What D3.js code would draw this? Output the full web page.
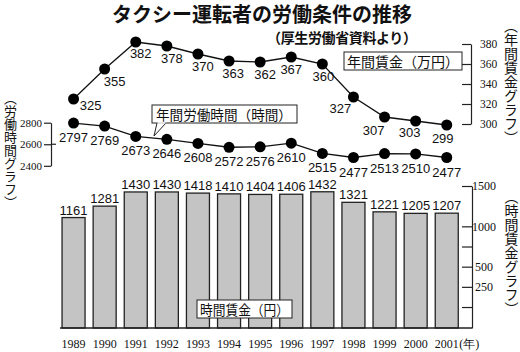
<!DOCTYPE html>
<html>
<head>
<meta charset="utf-8">
<script src="https://cdn.jsdelivr.net/npm/d3@7"></script>
<style>
  html, body { margin: 0; padding: 0; background: #fff; }
  svg { display: block; }
  .num { font-family: "Liberation Sans", Arial, sans-serif; font-size: 13px; fill: #111; }
  .serif { font-family: "Liberation Serif", "Times New Roman", serif; fill: #111; }
  .jp { font-family: "Noto Sans CJK JP", sans-serif; fill: #111; }
  .vert { writing-mode: vertical-rl; }
</style>
</head>
<body>
<div id="chart"></div>
<script>
// タクシー運転者の労働条件の推移
const years = ["1989","1990","1991","1992","1993","1994","1995","1996","1997","1998","1999","2000","2001"];
const annualWage = [325, 355, 382, 378, 370, 363, 362, 367, 360, 327, 307, 303, 299];     // 万円
const annualHours = [2797, 2769, 2673, 2646, 2608, 2572, 2576, 2610, 2515, 2477, 2513, 2510, 2477]; // 時間
const hourlyWage = [1161, 1281, 1430, 1430, 1418, 1410, 1404, 1406, 1432, 1321, 1221, 1205, 1207]; // 円

const wageTicks = [300, 320, 340, 360, 380];
const hoursTicks = [2400, 2600, 2800];
const hourlyTicks = [0, 250, 500, 750, 1000, 1500];
const hourlyTickLabels = [250, 500, 1000, 1500];

// label nudges for the wage line (layout only)
const wageLabelDx = [17, 10, 5, 5, 5, 4, 5, 0, 1, -13, -11, -6, -4];
const wageLabelDy = [11, 17, 16, 17, 17, 17, 17, 17, 17, 16, 18, 16, 18];

const W = 520, H = 352;
const svg = d3.select("#chart").append("svg")
  .attr("width", W).attr("height", H);

// scales
const x = d3.scaleBand().domain(years)
  .range([58, 462.3]).paddingInner(0.26).paddingOuter(0.13);
const cx = d => x(d) + x.bandwidth() / 2;

const yBar = d3.scaleLinear().domain([0, 1500]).range([328, 185.3]);
const yBarAxis = d3.scaleLinear().domain([-260, 1500]).range([328, 186]);
const yWage = d3.scaleLinear().domain([300, 380]).range([124, 44]);
const yHours = d3.scaleLinear().domain([2400, 2800]).range([165.8, 122.7]);

// ===== title =====
svg.append("text").attr("class", "jp")
  .attr("x", 262).attr("y", 21.5).attr("text-anchor", "middle")
  .style("font-size", "20px").style("font-weight", "700")
  .text("タクシー運転者の労働条件の推移");
svg.append("text").attr("class", "jp")
  .attr("x", 267).attr("y", 43)
  .style("font-size", "14px").style("font-weight", "700")
  .attr("textLength", 150).attr("lengthAdjust", "spacing")
  .text("（厚生労働省資料より）");

// ===== bars =====
const barData = years.map((y, i) => ({ year: y, v: hourlyWage[i] }));
svg.selectAll(".bar").data(barData).enter().append("rect")
  .attr("class", "bar")
  .attr("x", d => x(d.year))
  .attr("y", d => yBar(d.v))
  .attr("width", x.bandwidth())
  .attr("height", d => yBar(0) - yBar(d.v))
  .attr("fill", "#c4c4c4")
  .attr("stroke", "#222")
  .attr("stroke-width", 1.3);

svg.selectAll(".bar-label").data(barData).enter().append("text")
  .attr("class", "num")
  .attr("x", d => cx(d.year))
  .attr("y", d => yBar(d.v) - 3)
  .attr("text-anchor", "middle")
  .text(d => d.v);

// baseline
svg.append("line")
  .attr("x1", 60).attr("x2", 472)
  .attr("y1", yBar(0)).attr("y2", yBar(0))
  .attr("stroke", "#222").attr("stroke-width", 1.3);

// year axis
const xAxis = svg.append("g")
  .attr("transform", `translate(0,${yBar(0)})`)
  .call(d3.axisBottom(x).tickSize(0).tickPadding(0));
xAxis.select(".domain").remove();
xAxis.selectAll("text")
  .attr("class", "serif")
  .attr("y", 20).attr("dy", 0)
  .style("font-size", "12px");
svg.append("text").attr("class", "serif")
  .attr("x", cx("2001") + 12.5).attr("y", yBar(0) + 20)
  .style("font-size", "12px")
  .text("(年)");

// hourly wage axis (right, bottom)
const barAxis = svg.append("g")
  .attr("transform", "translate(472,0)")
  .call(d3.axisRight(yBarAxis).tickValues(hourlyTicks)
    .tickSizeInner(-10).tickSizeOuter(0).tickPadding(12)
    .tickFormat(d => hourlyTickLabels.includes(d) ? d : ""));
barAxis.select(".domain").attr("stroke", "#222").attr("stroke-width", 1.2);
barAxis.selectAll(".tick line").attr("stroke", "#222").attr("stroke-width", 1.2);
barAxis.selectAll("text").attr("class", "serif")
  .attr("text-anchor", "middle")
  .style("font-size", "12px");

// legend: 時間賃金（円）
svg.append("rect")
  .attr("x", 197).attr("y", 300).attr("width", 95).attr("height", 18)
  .attr("fill", "#fff").attr("stroke", "#222").attr("stroke-width", 1);
svg.append("text").attr("class", "jp")
  .attr("x", 200).attr("y", 314.5)
  .style("font-size", "14px")
  .attr("textLength", 89).attr("lengthAdjust", "spacingAndGlyphs")
  .text("時間賃金（円）");

// ===== annual hours line =====
const hoursData = years.map((y, i) => ({ year: y, v: annualHours[i] }));
svg.append("path").datum(hoursData)
  .attr("fill", "none").attr("stroke", "#111").attr("stroke-width", 1.3)
  .attr("d", d3.line().x(d => cx(d.year)).y(d => yHours(d.v)));
svg.selectAll(".hours-dot").data(hoursData).enter().append("circle")
  .attr("cx", d => cx(d.year)).attr("cy", d => yHours(d.v))
  .attr("r", 5.5).attr("fill", "#000");
svg.selectAll(".hours-label").data(hoursData).enter().append("text")
  .attr("class", "num")
  .attr("x", d => cx(d.year))
  .attr("y", d => yHours(d.v) + 19)
  .attr("text-anchor", "middle")
  .text(d => d.v);

// hours axis (left bracket)
const hAxis = svg.append("g")
  .attr("transform", "translate(51,0)")
  .call(d3.axisLeft(yHours).tickValues(hoursTicks)
    .tickSizeInner(7).tickSizeOuter(0).tickPadding(2)
    .tickFormat(d3.format("d")));
hAxis.select(".domain").attr("stroke", "#222").attr("stroke-width", 1.2);
hAxis.selectAll(".tick line").attr("stroke", "#222").attr("stroke-width", 1.2);
hAxis.selectAll("text").attr("class", "serif").style("font-size", "11px");
svg.append("line")
  .attr("x1", 51).attr("x2", 56)
  .attr("y1", yHours(2600)).attr("y2", yHours(2600))
  .attr("stroke", "#222").attr("stroke-width", 1.2);

// legend: 年間労働時間（時間） with tail
svg.append("path")
  .attr("d", "M157,123 L154,136 L166,123")
  .attr("fill", "#fff").attr("stroke", "#222").attr("stroke-width", 1);
svg.append("rect")
  .attr("x", 152).attr("y", 105).attr("width", 145).attr("height", 18)
  .attr("fill", "#fff").attr("stroke", "#222").attr("stroke-width", 1);
svg.append("line")
  .attr("x1", 157.5).attr("x2", 165.5).attr("y1", 123).attr("y2", 123)
  .attr("stroke", "#fff").attr("stroke-width", 1.5);
svg.append("text").attr("class", "jp")
  .attr("x", 156).attr("y", 119.5)
  .style("font-size", "13.6px")
  .text("年間労働時間（時間）");

// ===== annual wage line =====
const wageData = years.map((y, i) => ({ year: y, v: annualWage[i], i }));
svg.append("path").datum(wageData)
  .attr("fill", "none").attr("stroke", "#111").attr("stroke-width", 1.3)
  .attr("d", d3.line().x(d => cx(d.year)).y(d => yWage(d.v)));
svg.selectAll(".wage-dot").data(wageData).enter().append("circle")
  .attr("cx", d => cx(d.year)).attr("cy", d => yWage(d.v))
  .attr("r", 5.5).attr("fill", "#000");
svg.selectAll(".wage-label").data(wageData).enter().append("text")
  .attr("class", "num")
  .attr("x", d => cx(d.year) + wageLabelDx[d.i])
  .attr("y", d => yWage(d.v) + wageLabelDy[d.i])
  .attr("text-anchor", "middle")
  .text(d => d.v);

// wage axis (right, top)
const wAxis = svg.append("g")
  .attr("transform", "translate(471,0)")
  .call(d3.axisRight(yWage).tickValues(wageTicks)
    .tickSizeInner(-9).tickSizeOuter(0).tickPadding(9));
wAxis.select(".domain").attr("stroke", "#222").attr("stroke-width", 1.2);
wAxis.selectAll(".tick line").attr("stroke", "#222").attr("stroke-width", 1.2);
wAxis.selectAll("text").attr("class", "serif").style("font-size", "11.5px");

// legend: 年間賃金（万円）
svg.append("rect")
  .attr("x", 344).attr("y", 52).attr("width", 118).attr("height", 18)
  .attr("fill", "#fff").attr("stroke", "#222").attr("stroke-width", 1);
svg.append("text").attr("class", "jp")
  .attr("x", 347).attr("y", 66.5)
  .style("font-size", "14px")
  .text("年間賃金（万円）");

// ===== vertical axis titles =====
function vTitle(txt, xc, y0, size) {
  svg.append("text").attr("class", "jp vert")
    .attr("x", xc).attr("y", y0)
    .style("font-size", size + "px")
    .text(txt);
}
vTitle("（労働時間グラフ）", 10.5, 92, 13);
vTitle("（年間賃金グラフ）", 511, 19, 14);
vTitle("（時間賃金グラフ）", 511.5, 190, 14);
</script>
</body>
</html>
